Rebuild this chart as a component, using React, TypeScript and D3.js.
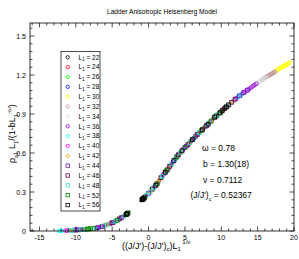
import React, { useEffect, useRef } from 'react';
import * as d3 from 'd3';

// system sizes and their symbol / colour (xmgrace palette)
const sizes = [22, 24, 26, 28, 30, 32, 34, 36, 38, 40, 42, 44, 46, 48, 52, 56];
const symbols = ['circle', 'circle', 'circle', 'circle', 'circle', 'circle', 'circle', 'circle',
  'circle', 'circle', 'circle', 'square', 'square', 'square', 'square', 'square'];
const colors = ['#000000', '#ff0000', '#00ff00', '#0000ff', '#ffff00', '#bc8f8f', '#dcdcdc', '#9400d3',
  '#00ffff', '#ff00ff', '#ffa500', '#7221bc', '#670748', '#40e0d0', '#008b00', '#000000'];

// collapsed data, one list of [x, y] per size
const L22 = [[-6.8, 0.028], [-5.2, 0.058], [-3.9, 0.096], [-0.6, 0.258], [0.6, 0.326], [1.2, 0.362], [1.8, 0.415], [2.4, 0.46], [3.1, 0.505], [3.7, 0.555], [4.3, 0.598], [5.0, 0.645], [5.6, 0.676], [6.2, 0.712], [6.8, 0.748], [7.4, 0.785], [8.1, 0.818]];
const L24 = [[-6.2, 0.038], [-4.6, 0.074], [-3.3, 0.118], [0.2, 0.302], [0.8, 0.342], [1.4, 0.384], [2.1, 0.44], [2.7, 0.478], [3.4, 0.538], [4.0, 0.582], [4.7, 0.628], [5.3, 0.658], [5.8, 0.69], [6.4, 0.724], [6.9, 0.754], [7.6, 0.79], [8.2, 0.824]];
const L26 = [[-11.2, 0.004], [-10.2, 0.007], [-9.3, 0.01], [-8.2, 0.016], [-7.0, 0.025], [-5.6, 0.05], [-4.2, 0.086], [-0.2, 0.28], [0.5, 0.318], [1.1, 0.356], [1.8, 0.41], [2.4, 0.458], [3.1, 0.51], [3.7, 0.556], [4.4, 0.6], [5.0, 0.642], [5.7, 0.69], [6.3, 0.718], [7.0, 0.758], [7.7, 0.8], [8.4, 0.838], [9.0, 0.872]];
const L28 = [[-7.1, 0.024], [-6.5, 0.033], [-5.9, 0.044], [-5.2, 0.058], [-4.4, 0.08], [-3.7, 0.104], [-3.1, 0.126], [0.9, 0.344], [1.6, 0.4], [2.2, 0.444], [2.8, 0.486], [3.4, 0.535], [4.1, 0.586], [4.7, 0.622], [5.5, 0.668], [6.2, 0.71], [6.9, 0.755]];
const L30 = [[1.6, 0.398], [17.6, 1.232], [17.7, 1.238], [17.9, 1.245], [18.0, 1.25], [18.2, 1.256], [18.35, 1.262], [18.5, 1.266], [18.65, 1.27], [18.8, 1.275], [18.95, 1.28], [19.1, 1.284], [19.25, 1.29], [19.4, 1.296]];
const L32 = [[-9.8, 0.008], [15.6, 1.162], [15.75, 1.168], [15.9, 1.176], [16.05, 1.18], [16.2, 1.186], [16.35, 1.19], [16.5, 1.196], [16.65, 1.2], [16.8, 1.205], [16.95, 1.21], [17.1, 1.214], [17.25, 1.22], [17.4, 1.225]];
const L34 = [[14.4, 1.117], [14.55, 1.122], [14.7, 1.128], [14.85, 1.134], [15.0, 1.14], [15.15, 1.145], [15.3, 1.15], [15.45, 1.156], [15.6, 1.161], [15.75, 1.166], [15.9, 1.172], [16.05, 1.178], [16.2, 1.183]];
const L36 = [[-10.3, 0.006], [-6.0, 0.042], [2.9, 0.493], [5.9, 0.695], [7.2, 0.768], [8.8, 0.858], [9.8, 0.912], [11.3, 0.985], [11.55, 0.996], [11.8, 1.008], [12.05, 1.02], [12.3, 1.032], [12.55, 1.042], [12.8, 1.052], [13.05, 1.062], [13.3, 1.072], [13.55, 1.082], [13.8, 1.092], [14.05, 1.102], [14.3, 1.112], [14.55, 1.122], [14.8, 1.132]];
const L38 = [[-12.3, 0.001], [-12.1, 0.001], [-11.9, 0.002], [-7.3, 0.022], [-4.8, 0.068], [0.4, 0.314], [1.9, 0.422], [3.6, 0.548], [5.1, 0.646], [6.6, 0.735], [8.0, 0.812], [10.4, 0.94], [10.7, 0.955], [11.0, 0.968], [11.3, 0.982], [11.6, 0.998], [11.9, 1.012], [12.2, 1.026], [12.45, 1.036], [12.7, 1.048]];
const L40 = [[-11.4, 0.003], [-11.2, 0.003], [-10.9, 0.004], [-6.9, 0.027], [-6.6, 0.031], [-5.3, 0.056], [-4.1, 0.09], [-0.4, 0.268], [0.6, 0.328], [2.0, 0.43], [3.3, 0.524], [4.9, 0.636], [6.0, 0.7], [7.3, 0.772], [8.5, 0.84], [9.6, 0.9], [10.9, 0.962], [12.0, 1.018]];
const L42 = [[-10.8, 0.004], [-10.6, 0.005], [-10.4, 0.005], [-5.9, 0.044], [-5.4, 0.054], [0.3, 0.308], [1.3, 0.372], [2.8, 0.484], [4.4, 0.605], [5.5, 0.672], [7.1, 0.765], [8.6, 0.846], [10.0, 0.918], [10.25, 0.93], [10.5, 0.944], [10.8, 0.958], [11.1, 0.972], [11.35, 0.984], [11.6, 0.996]];
const L44 = [[-10.1, 0.007], [-9.85, 0.008], [-9.6, 0.009], [-7.1, 0.024], [-6.4, 0.034], [-4.9, 0.065], [-3.7, 0.104], [0.0, 0.29], [1.1, 0.36], [2.6, 0.47], [3.9, 0.572], [5.2, 0.652], [6.5, 0.73], [7.9, 0.806], [9.1, 0.876], [10.2, 0.93], [11.4, 0.99], [12.5, 1.04], [13.1, 1.066], [13.6, 1.084]];
const L46 = [[-9.0, 0.011], [-8.8, 0.012], [-6.3, 0.036], [-5.0, 0.063], [-4.0, 0.093], [-0.9, 0.24], [-0.7, 0.25], [-0.5, 0.262], [0.5, 0.322], [1.7, 0.41], [2.9, 0.498], [4.1, 0.586], [5.4, 0.664], [6.7, 0.742], [8.0, 0.812], [9.3, 0.884], [10.6, 0.95], [11.9, 1.014]];
const L48 = [[-10.7, 0.005], [-10.5, 0.005], [-9.2, 0.01], [-8.7, 0.013], [-6.2, 0.038], [-5.7, 0.048], [-4.5, 0.077], [-3.4, 0.114], [-0.3, 0.274], [0.2, 0.3], [0.7, 0.332], [1.9, 0.42], [3.2, 0.515], [4.4, 0.604], [5.7, 0.68], [7.0, 0.758], [8.3, 0.83], [9.5, 0.895], [10.8, 0.96]];
const L52 = [[-8.4, 0.015], [-8.2, 0.016], [-8.0, 0.017], [-7.5, 0.02], [-4.3, 0.083], [-3.1, 0.126], [-2.8, 0.14], [-0.8, 0.245], [-0.6, 0.255], [1.2, 0.364], [2.5, 0.468], [3.9, 0.57], [5.0, 0.642], [6.1, 0.706], [7.3, 0.774], [8.6, 0.845], [9.3, 0.886], [9.9, 0.912]];
const L56 = [[-3.05, 0.128], [-3.0, 0.13], [-2.9, 0.135], [-0.9, 0.24], [-0.85, 0.242], [-0.8, 0.244], [-0.75, 0.248], [-0.6, 0.254], [1.0, 0.352], [2.3, 0.452], [3.5, 0.542], [4.6, 0.616], [6.0, 0.702], [7.4, 0.778], [8.2, 0.822], [9.1, 0.876], [9.8, 0.908], [10.1, 0.924], [10.4, 0.94], [10.7, 0.955], [11.0, 0.97]];
const series = [L22, L24, L26, L28, L30, L32, L34, L36, L38, L40, L42, L44, L46, L48, L52, L56];

const xTicks = [-15, -10, -5, 0, 5, 10, 15, 20];
const yTicks = [0, 0.3, 0.6, 0.9, 1.2, 1.5];

const App = () => {
  const svgRef = useRef(null);

  useEffect(() => {
    const W = 299, H = 259;
    const left = 30, right = 294, top = 23, bottom = 231;
    const font = 'Liberation Sans, Arial, Helvetica, sans-serif';

    const svg = d3.select(svgRef.current);
    svg.selectAll('*').remove();
    svg.attr('width', W).attr('height', H);

    const x = d3.scaleLinear().domain([-16.3, 20]).range([left, right]);
    const y = d3.scaleLinear().domain([0, 1.6]).range([bottom, top]);

    svg.append('rect').attr('width', W).attr('height', H).attr('fill', '#fff');

    // title
    svg.append('text')
      .attr('x', (left + right) / 2).attr('y', 14)
      .attr('text-anchor', 'middle')
      .style('font-family', font).style('font-size', '6.6px')
      .text('Ladder Anisotropic Heisenberg Model');

    // markers
    const drawMark = (g, cx, cy, sym, col, s) => {
      if (sym === 'circle') {
        g.append('circle').attr('cx', cx).attr('cy', cy).attr('r', s)
          .attr('fill', 'none').attr('stroke', col).attr('stroke-width', 0.8);
      } else {
        g.append('rect').attr('x', cx - s).attr('y', cy - s).attr('width', 2 * s).attr('height', 2 * s)
          .attr('fill', 'none').attr('stroke', col).attr('stroke-width', 0.8);
      }
    };

    const pts = svg.append('g');
    series.forEach((data, i) => {
      data.forEach(d => drawMark(pts, x(d[0]), y(d[1]), symbols[i], colors[i], 1.9));
    });

    // frame
    svg.append('rect')
      .attr('x', left).attr('y', top).attr('width', right - left).attr('height', bottom - top)
      .attr('fill', 'none').attr('stroke', '#000').attr('stroke-width', 0.8);

    // ticks (inward on all four sides)
    const ticks = svg.append('g').attr('stroke', '#000').attr('stroke-width', 0.7);
    d3.range(-16, 21, 1).forEach(v => {
      const len = v % 5 === 0 ? 4.5 : 2.5;
      ticks.append('line').attr('x1', x(v)).attr('x2', x(v)).attr('y1', bottom).attr('y2', bottom - len);
      ticks.append('line').attr('x1', x(v)).attr('x2', x(v)).attr('y1', top).attr('y2', top + len);
    });
    d3.range(0, 27, 1).forEach(k => {
      const v = k * 0.06;
      if (v > 1.6) return;
      const len = k % 5 === 0 ? 4.5 : 2.5;
      ticks.append('line').attr('y1', y(v)).attr('y2', y(v)).attr('x1', left).attr('x2', left + len);
      ticks.append('line').attr('y1', y(v)).attr('y2', y(v)).attr('x1', right).attr('x2', right - len);
    });

    svg.append('g').selectAll('text').data(xTicks).join('text')
      .attr('x', d => x(d)).attr('y', 239.5)
      .attr('text-anchor', 'middle')
      .style('font-family', font).style('font-size', '7px')
      .text(d => d);
    svg.append('g').selectAll('text').data(yTicks).join('text')
      .attr('x', 26).attr('y', d => y(d) + 2.5)
      .attr('text-anchor', 'end')
      .style('font-family', font).style('font-size', '7px')
      .text(d => d);

    // axis titles
    const xt = svg.append('text')
      .attr('x', 122).attr('y', 248.5)
      .style('font-family', font).style('font-size', '9px');
    xt.append('tspan').text("((J/J')-(J/J')");
    xt.append('tspan').attr('dy', 2.5).style('font-size', '6px').text('c');
    xt.append('tspan').attr('dy', -2.5).text(')L');
    xt.append('tspan').attr('dy', 2.5).style('font-size', '6px').text('1');
    xt.append('tspan').attr('dy', -7).attr('dx', 2).style('font-size', '6px').text('1/ν');

    const yt = svg.append('text')
      .attr('transform', 'translate(15,163) rotate(-90)')
      .style('font-family', font).style('font-size', '9px');
    yt.append('tspan').text('ρ');
    yt.append('tspan').attr('dy', 2.5).style('font-size', '6px').text('s1');
    yt.append('tspan').attr('dy', -2.5).text(' L');
    yt.append('tspan').attr('dy', 2.5).style('font-size', '6px').text('1');
    yt.append('tspan').attr('dy', -2.5).text('/(1-bL');
    yt.append('tspan').attr('dy', 2.5).style('font-size', '6px').text('1');
    yt.append('tspan').attr('dy', -7).style('font-size', '6px').text('-ω');
    yt.append('tspan').attr('dy', 4.5).text(')');

    // legend
    const lg = svg.append('g');
    lg.append('rect').attr('x', 61).attr('y', 51.5).attr('width', 39).attr('height', 159.5)
      .attr('fill', '#fff').attr('stroke', '#000').attr('stroke-width', 0.7);
    sizes.forEach((s, i) => {
      const cy = 57.3 + i * 9.85;
      drawMark(lg, 67.7, cy, symbols[i], colors[i], 1.7);
      const t = lg.append('text').attr('x', 78.5).attr('y', cy + 2.3)
        .style('font-family', font).style('font-size', '6.5px');
      t.append('tspan').text('L');
      t.append('tspan').attr('dy', 1.8).style('font-size', '4.5px').text('1');
      t.append('tspan').attr('dy', -1.8).text(` = ${s}`);
    });

    // fit parameters
    const ann = svg.append('g').style('font-family', font).style('font-size', '8.5px');
    ann.append('text').attr('x', 202).attr('y', 151).text('ω = 0.78');
    ann.append('text').attr('x', 203).attr('y', 166.5).text('b = 1.30(18)');
    ann.append('text').attr('x', 203).attr('y', 183).text('ν = 0.7112');
    const jc = ann.append('text').attr('x', 190.5).attr('y', 198);
    jc.append('tspan').text("(J/J')");
    jc.append('tspan').attr('dy', 2.5).style('font-size', '5.5px').text('c');
    jc.append('tspan').attr('dy', -2.5).text(' = 0.52367');
  }, []);

  return <svg ref={svgRef} style={{ position: 'absolute', left: 0, top: 0 }}></svg>;
};

export default App;
